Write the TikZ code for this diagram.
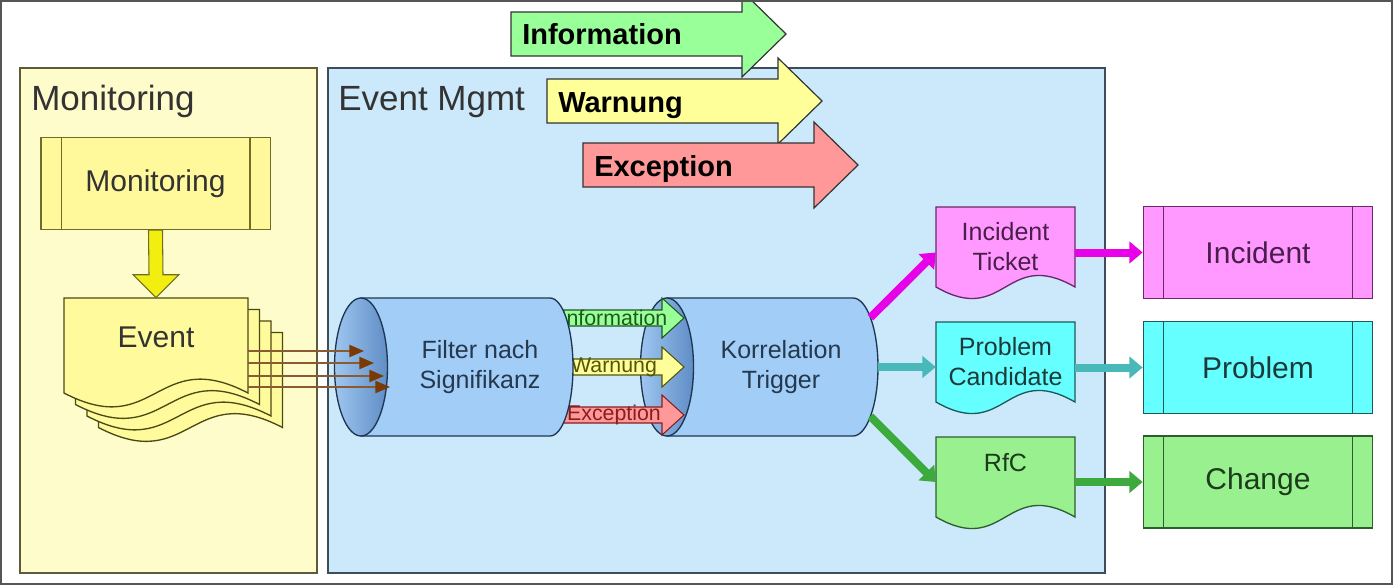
\documentclass[tikz,border=0pt]{standalone}
\usepackage{fontspec}
\setmainfont{Liberation Sans}
\usepackage{tikz}
\usetikzlibrary{positioning,arrows.meta,calc}

\definecolor{monpanel}{HTML}{FFFCCB}
\definecolor{monedge}{HTML}{5C5C3A}
\definecolor{evpanel}{HTML}{CCE9FB}
\definecolor{evedge}{HTML}{3E4C5C}
\definecolor{monboxfill}{HTML}{FFF99C}
\definecolor{monboxedge}{HTML}{6E6E2A}
\definecolor{evdocfill}{HTML}{FFFB9C}
\definecolor{evdocedge}{HTML}{4A4A14}
\definecolor{downyellow}{HTML}{F2EE10}
\definecolor{infofill}{HTML}{99FF99}
\definecolor{warnfill}{HTML}{FFFF99}
\definecolor{excfill}{HTML}{FF9999}
\definecolor{cylbody}{HTML}{A2CDF7}
\definecolor{facelight}{HTML}{9EC6F0}
\definecolor{facedark}{HTML}{5F8DC5}
\definecolor{cyledge}{HTML}{1E3650}
\definecolor{cyltext}{HTML}{24384E}
\definecolor{evline}{HTML}{8A5A30}
\definecolor{evtip}{HTML}{7A3A05}
\definecolor{incfill}{HTML}{FF99FF}
\definecolor{incedge}{HTML}{6A2A6A}
\definecolor{inctext}{HTML}{4A1E4A}
\definecolor{probfill}{HTML}{66FFFF}
\definecolor{probedge}{HTML}{1F5A5A}
\definecolor{probtext}{HTML}{1C3A3A}
\definecolor{chgfill}{HTML}{99F08F}
\definecolor{chgedge}{HTML}{2E5E2E}
\definecolor{chgtext}{HTML}{1C3C1C}
\definecolor{magarrow}{HTML}{E800E8}
\definecolor{tealarrow}{HTML}{48B8B8}
\definecolor{greenarrow}{HTML}{3CAA3C}
\definecolor{infotext}{HTML}{1E5A1E}
\definecolor{warntext}{HTML}{55550A}
\definecolor{exctext}{HTML}{8A1E1E}
\definecolor{framegray}{HTML}{555555}

\begin{document}
\begin{tikzpicture}[x=0.75pt, y=-0.75pt,
  header/.style={anchor=base west, inner sep=0pt, text=black!80, font=\fontsize{26.25pt}{30pt}\selectfont},
  procbox/.style={draw, line width=1pt, minimum width=172pt, minimum height=69pt, inner sep=0pt, font=\fontsize{22.5pt}{26pt}\selectfont},
  docnode/.style={minimum width=104.25pt, minimum height=60pt, inner sep=0pt, align=center, font=\fontsize{18.75pt}{22.5pt}\selectfont},
  cylnode/.style={minimum width=158.5pt, minimum height=103.5pt, inner sep=0pt, align=center, text=cyltext, font=\fontsize{18.75pt}{23pt}\selectfont},
  cylbox/.style={fill=cylbody, draw=cyledge, line width=1pt},
  cylface/.style={left color=facelight, right color=facedark, draw=cyledge, line width=1pt},
  bigtag/.style={anchor=base west, inner sep=0pt, font=\bfseries\fontsize{21.75pt}{24pt}\selectfont},
  thickarrow/.style={line width=6pt, -{Triangle[length=10pt,width=16pt]}}]

\useasboundingbox (0,0) rectangle (1394,585);

% panels
\draw[fill=monpanel, draw=monedge, line width=1.5pt] (20,68) rectangle (317,573);
\draw[fill=evpanel, draw=evedge, line width=1.5pt] (328,68) rectangle (1105,573);
\node[header] (monhead) at (31,110) {Monitoring};
\node[header] (evhead) at (338,110) {Event Mgmt};

% monitoring source and event stack
\node[procbox, fill=monboxfill, draw=monboxedge, text=black!80] (monbox) at (155.5,183.5) {Monitoring};
\foreach \a/\s in {west/1, east/-1}
  \draw[monboxedge, line width=1pt] ([xshift=\s*15.75pt]monbox.north \a) -- ([xshift=\s*15.75pt]monbox.south \a);

\foreach \k in {3,2,1,0}
  \draw[fill=evdocfill, draw=evdocedge, line width=1pt] (64+11.5*\k,298+11.5*\k) -- ++(184,0) -- ++(0,95) .. controls +(-92,-48) and +(92,48) .. ++(-184,0) -- cycle;
\node[docnode, minimum width=138pt, minimum height=58.5pt, font=\fontsize{22.5pt}{26pt}\selectfont, text=black!80] (event) at (156,337) {Event};

\draw[fill=downyellow, draw=monboxedge, line width=0.8pt] ($(monbox.south)+(-7,0)$) -- ($(event.north)+(-7,-23)$) -- ++(-16,0) -- (event.north) -- ++(23,-23) -- ++(-16,0) -- ($(monbox.south)+(7,0)$) -- cycle;

% korrelation cylinder
\draw[cylbox] (667,298) -- (853,298) arc[start angle=-90, end angle=90, x radius=25, y radius=69] -- (667,436) -- cycle;
\draw[cylface] (667,367) ellipse [x radius=26.5, y radius=69];
\node[cylnode] (korr) at (772.5,367) {\hspace*{6.4pt}Korrelation\hspace*{-6.4pt}\\\hspace*{6.4pt}Trigger\hspace*{-6.4pt}};

% the three levels
\foreach \lbl/\y/\fc/\tc in {Information/318/infofill/infotext, Warnung/367/warnfill/warntext, Exception/415/excfill/exctext} {
  \draw[fill=\fc, draw=\tc, line width=0.8pt] (550,\y-8) -- (662,\y-8) -- (662,\y-20) -- (684,\y) -- (662,\y+20) -- (662,\y+8) -- (550,\y+8) -- cycle;
  \node[font=\fontsize{16pt}{18pt}\selectfont, text=\tc, inner sep=0pt] (tag\lbl) at (614,\y) {\lbl};
}

% filter cylinder
\draw[cylbox] (361,298) -- (550,298) arc[start angle=-90, end angle=90, x radius=23, y radius=69] -- (361,436) -- cycle;
\draw[cylface] (361,367) ellipse [x radius=26.5, y radius=69];
\node[cylnode] (filter) at (467,367) {\hspace*{9.75pt}Filter nach\hspace*{-9.75pt}\\\hspace*{9.75pt}Signifikanz\hspace*{-9.75pt}};

\foreach \y/\xe in {351/364,363/374,376/384,387/390}
  \draw[evline, line width=1.5pt, -{Triangle[length=11pt,width=9pt,color=evtip]}] ($(event.east)+(0,\y-337)$) -- ($(filter.west)+(\xe-361,\y-367)$);

% tickets
\foreach \nm/\lbl/\y/\fc/\dc/\tc in {tick/{Incident\\Ticket}/207/incfill/incedge/inctext, cand/{Problem\\Candidate}/322/probfill/probedge/probtext, rfc/{RfC\\\mbox{}}/437/chgfill/chgedge/chgtext} {
  \draw[fill=\fc, draw=\dc, line width=1pt] (936,\y) -- ++(139,0) -- ++(0,80) .. controls +(-69.5,-40) and +(69.5,40) .. ++(-139,0) -- cycle;
  \node[docnode, text=\tc] (\nm) at (1005.5,\y+40) {\lbl};
}

% processes
\foreach \nm/\lbl/\y/\fc/\dc/\tc in {inc/Incident/252.5/incfill/incedge/inctext, prob/Problem/367.5/probfill/probedge/probtext, chg/Change/482/chgfill/chgedge/chgtext} {
  \node[procbox, fill=\fc, draw=\dc, text=\tc] (\nm) at (1258,\y) {\lbl};
  \foreach \a/\s in {west/1, east/-1}
    \draw[\dc, line width=1pt] ([xshift=\s*15.75pt]\nm.north \a) -- ([xshift=\s*15.75pt]\nm.south \a);
}

\draw[thickarrow, magarrow] ([xshift=-6pt]korr.25) -- (tick.west |- inc.west);
\draw[thickarrow, tealarrow] (korr.east) -- (cand.west |- korr.east);
\draw[thickarrow, greenarrow] ([xshift=-6pt]korr.-25) -- (rfc.west |- chg.west);
\draw[thickarrow, magarrow] (tick.east |- inc.west) -- (inc.west);
\draw[thickarrow, tealarrow] (cand.east |- prob.west) -- (prob.west);
\draw[thickarrow, greenarrow] (rfc.east |- chg.west) -- (chg.west);

% levels on top
\foreach \nm/\lbl/\x/\y/\fc in {info/Information/511/34/infofill, warn/Warnung/547/101/warnfill, exc/Exception/583/165/excfill} {
  \draw[fill=\fc, draw=black!80, line width=0.9pt] (\x,\y-22) -- ++(231,0) -- ++(0,-21) -- (\x+275,\y) -- (\x+231,\y+43) -- ++(0,-21) -- (\x,\y+22) -- cycle;
  \node[bigtag] (\nm) at (\x+11,\y+11) {\lbl};
}

\draw[framegray, line width=1.5pt] (1,1) rectangle (1392,584);
\end{tikzpicture}
\end{document}
